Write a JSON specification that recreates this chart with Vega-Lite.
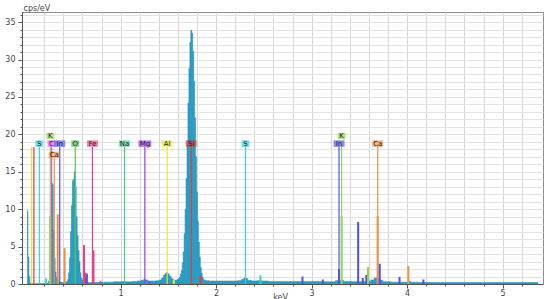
{
  "$schema": "https://vega.github.io/schema/vega-lite/v6.json",
  "width": 521,
  "height": 272,
  "autosize": "none",
  "padding": {"left": 22, "top": 12, "right": 7, "bottom": 15},
  "background": "white",
  "config": {
    "view": {"stroke": "#8a8a8a", "strokeWidth": 1},
    "font": "DejaVu Sans",
    "axis": {"labelOverlap": false, "labelFlush": false}
  },
  "datasets": {
    "spectrum": [
      {"e": 0.025, "c": 9.8}, {"e": 0.035, "c": 3.6}, {"e": 0.045, "c": 1.0}, {"e": 0.055, "c": 0.15}, {"e": 0.065, "c": 0.05},
      {"e": 0.1, "c": 0.05}, {"e": 0.2, "c": 0.05}, {"e": 0.24, "c": 0.1}, {"e": 0.25, "c": 0.4}, {"e": 0.26, "c": 1.0},
      {"e": 0.27, "c": 4.0}, {"e": 0.28, "c": 13.5}, {"e": 0.29, "c": 13.3}, {"e": 0.3, "c": 7.2}, {"e": 0.31, "c": 3.5},
      {"e": 0.32, "c": 1.6}, {"e": 0.33, "c": 0.9}, {"e": 0.34, "c": 0.5}, {"e": 0.35, "c": 0.3}, {"e": 0.36, "c": 0.25},
      {"e": 0.38, "c": 0.2}, {"e": 0.42, "c": 0.2}, {"e": 0.44, "c": 0.3}, {"e": 0.45, "c": 0.6}, {"e": 0.46, "c": 1.5},
      {"e": 0.47, "c": 3.5}, {"e": 0.48, "c": 7.0}, {"e": 0.49, "c": 10.5}, {"e": 0.5, "c": 13.8}, {"e": 0.51, "c": 14.0},
      {"e": 0.52, "c": 15.0}, {"e": 0.53, "c": 13.0}, {"e": 0.54, "c": 9.0}, {"e": 0.55, "c": 6.5}, {"e": 0.56, "c": 4.5},
      {"e": 0.57, "c": 3.0}, {"e": 0.58, "c": 1.5}, {"e": 0.59, "c": 0.8}, {"e": 0.6, "c": 0.5}, {"e": 0.61, "c": 0.35},
      {"e": 0.62, "c": 1.3}, {"e": 0.63, "c": 1.3}, {"e": 0.64, "c": 0.3}, {"e": 0.66, "c": 0.2}, {"e": 0.7, "c": 0.2},
      {"e": 0.8, "c": 0.2}, {"e": 0.85, "c": 0.25}, {"e": 0.9, "c": 0.25}, {"e": 0.95, "c": 0.3}, {"e": 1.0, "c": 0.3},
      {"e": 1.04, "c": 0.35}, {"e": 1.06, "c": 0.3}, {"e": 1.1, "c": 0.3}, {"e": 1.15, "c": 0.35}, {"e": 1.2, "c": 0.4},
      {"e": 1.23, "c": 0.5}, {"e": 1.25, "c": 0.6}, {"e": 1.27, "c": 0.55}, {"e": 1.3, "c": 0.4}, {"e": 1.35, "c": 0.4},
      {"e": 1.4, "c": 0.45}, {"e": 1.42, "c": 0.55}, {"e": 1.44, "c": 0.8}, {"e": 1.46, "c": 1.2}, {"e": 1.47, "c": 1.4},
      {"e": 1.48, "c": 1.5}, {"e": 1.49, "c": 1.5}, {"e": 1.5, "c": 1.4}, {"e": 1.51, "c": 1.2}, {"e": 1.52, "c": 1.0},
      {"e": 1.54, "c": 0.7}, {"e": 1.56, "c": 0.55}, {"e": 1.58, "c": 0.5}, {"e": 1.6, "c": 0.6}, {"e": 1.61, "c": 0.75},
      {"e": 1.62, "c": 0.9}, {"e": 1.63, "c": 1.3}, {"e": 1.64, "c": 1.8}, {"e": 1.65, "c": 2.8}, {"e": 1.66, "c": 4.3},
      {"e": 1.67, "c": 6.7}, {"e": 1.68, "c": 10.0}, {"e": 1.69, "c": 14.1}, {"e": 1.7, "c": 19.1}, {"e": 1.71, "c": 24.2},
      {"e": 1.72, "c": 28.8}, {"e": 1.73, "c": 32.3}, {"e": 1.74, "c": 33.9}, {"e": 1.75, "c": 33.5}, {"e": 1.76, "c": 31.1},
      {"e": 1.77, "c": 27.1}, {"e": 1.78, "c": 22.2}, {"e": 1.79, "c": 17.0}, {"e": 1.8, "c": 12.3}, {"e": 1.81, "c": 8.4},
      {"e": 1.82, "c": 5.6}, {"e": 1.83, "c": 3.6}, {"e": 1.84, "c": 2.2}, {"e": 1.85, "c": 1.4}, {"e": 1.86, "c": 0.9},
      {"e": 1.87, "c": 0.6}, {"e": 1.88, "c": 0.5}, {"e": 1.9, "c": 0.45}, {"e": 1.95, "c": 0.4}, {"e": 2.0, "c": 0.4},
      {"e": 2.1, "c": 0.4}, {"e": 2.2, "c": 0.4}, {"e": 2.25, "c": 0.45}, {"e": 2.28, "c": 0.6}, {"e": 2.3, "c": 0.8},
      {"e": 2.32, "c": 0.75}, {"e": 2.34, "c": 0.5}, {"e": 2.4, "c": 0.4}, {"e": 2.46, "c": 0.45}, {"e": 2.5, "c": 0.4},
      {"e": 2.6, "c": 0.35}, {"e": 2.8, "c": 0.35}, {"e": 3.0, "c": 0.35}, {"e": 3.2, "c": 0.3}, {"e": 3.3, "c": 0.45},
      {"e": 3.32, "c": 0.5}, {"e": 3.35, "c": 0.35}, {"e": 3.5, "c": 0.3}, {"e": 3.6, "c": 0.35}, {"e": 3.64, "c": 0.55},
      {"e": 3.67, "c": 0.8}, {"e": 3.7, "c": 0.75}, {"e": 3.73, "c": 0.5}, {"e": 3.76, "c": 0.3}, {"e": 3.9, "c": 0.25},
      {"e": 4.0, "c": 0.25}, {"e": 4.02, "c": 0.35}, {"e": 4.05, "c": 0.25}, {"e": 4.2, "c": 0.2}, {"e": 4.5, "c": 0.2},
      {"e": 5.0, "c": 0.2}, {"e": 5.37, "c": 0.2}
    ],
    "markers": [
      {"el": "Al", "e": 0.068, "label": "", "tier": "mid"},
      {"el": "Si", "e": 0.092, "label": "", "tier": "mid"},
      {"el": "S", "e": 0.149, "label": "S", "tier": "mid"},
      {"el": "K", "e": 0.264, "label": "K", "tier": "top"},
      {"el": "C", "e": 0.277, "label": "C", "tier": "mid"},
      {"el": "Ca", "e": 0.305, "label": "Ca", "tier": "low"},
      {"el": "In", "e": 0.363, "label": "In", "tier": "mid"},
      {"el": "O", "e": 0.525, "label": "O", "tier": "mid"},
      {"el": "Fe", "e": 0.705, "label": "Fe", "tier": "mid"},
      {"el": "Na", "e": 1.041, "label": "Na", "tier": "mid"},
      {"el": "Mg", "e": 1.254, "label": "Mg", "tier": "mid"},
      {"el": "Al", "e": 1.487, "label": "Al", "tier": "mid"},
      {"el": "Si", "e": 1.74, "label": "Si", "tier": "mid"},
      {"el": "S", "e": 2.308, "label": "S", "tier": "mid"},
      {"el": "In", "e": 3.287, "label": "In", "tier": "mid"},
      {"el": "K", "e": 3.314, "label": "K", "tier": "top"},
      {"el": "Ca", "e": 3.692, "label": "Ca", "tier": "mid"}
    ],
    "peaks": [
      {"el": "S", "e": 0.22, "h": 0.75},
      {"el": "K", "e": 0.262, "h": 9.1},
      {"el": "Ca", "e": 0.342, "h": 9.3},
      {"el": "Ca", "e": 0.414, "h": 4.8},
      {"el": "Fe", "e": 0.617, "h": 5.2},
      {"el": "Fe", "e": 0.628, "h": 1.5},
      {"el": "In", "e": 0.647, "h": 1.4},
      {"el": "Fe", "e": 0.716, "h": 4.5},
      {"el": "Fe", "e": 0.79, "h": 0.4},
      {"el": "Mg", "e": 1.305, "h": 0.4},
      {"el": "Al", "e": 1.557, "h": 0.6},
      {"el": "Si", "e": 1.836, "h": 1.1},
      {"el": "S", "e": 2.464, "h": 1.16},
      {"el": "In", "e": 2.904, "h": 1.0},
      {"el": "In", "e": 3.117, "h": 0.6},
      {"el": "In", "e": 3.287, "h": 2.0},
      {"el": "K", "e": 3.314, "h": 9.1},
      {"el": "In", "e": 3.487, "h": 8.3},
      {"el": "In", "e": 3.535, "h": 0.8},
      {"el": "In", "e": 3.573, "h": 1.2},
      {"el": "K", "e": 3.59, "h": 2.3},
      {"el": "Ca", "e": 3.691, "h": 9.1},
      {"el": "In", "e": 3.713, "h": 2.7},
      {"el": "In", "e": 3.92, "h": 0.95},
      {"el": "Ca", "e": 4.013, "h": 2.4},
      {"el": "In", "e": 4.17, "h": 0.6}
    ]
  },
  "encoding": {
    "x": {
      "field": "e", "type": "quantitative", "title": "keV",
      "scale": {"domain": [0.02, 5.37], "nice": false, "zero": false},
      "axis": {
        "values": [0.2, 0.4, 0.6, 0.8, 1, 1.2, 1.4, 1.6, 1.8, 2, 2.2, 2.4, 2.6, 2.8, 3, 3.2, 3.4, 3.6, 3.8, 4, 4.2, 4.4, 4.6, 4.8, 5, 5.2],
        "labelExpr": "datum.value % 1 === 0 ? format(datum.value, 'd') : ''",
        "grid": true, "gridColor": "#d6d6d6", "gridWidth": 1,
        "domainColor": "#555555", "tickColor": "#555555",
        "tickSize": {"condition": {"test": "datum.value % 1 === 0", "value": 4}, "value": 2},
        "labelFontSize": 8, "labelColor": "#444444", "labelPadding": 1,
        "labelOverlap": false, "labelFlush": false,
        "titleFontSize": 8, "titleFontWeight": "normal", "titleColor": "#444444",
        "titleBaseline": "top", "titleY": 9, "titleX": 258, "titleAlign": "center"
      }
    },
    "y": {
      "type": "quantitative", "title": "cps/eV",
      "scale": {"domain": [0, 36.35], "nice": false},
      "axis": {
        "values": [0, 1, 2, 3, 4, 5, 6, 7, 8, 9, 10, 11, 12, 13, 14, 15, 16, 17, 18, 19, 20, 21, 22, 23, 24, 25, 26, 27, 28, 29, 30, 31, 32, 33, 34, 35, 36],
        "labelExpr": "datum.value % 5 === 0 ? format(datum.value, 'd') : ''",
        "grid": true, "gridColor": "#e2e2e2", "gridWidth": 1,
        "domainColor": "#555555", "tickColor": "#555555",
        "tickSize": {"condition": {"test": "datum.value % 5 === 0", "value": 4}, "value": 2},
        "labelFontSize": 8, "labelColor": "#444444", "labelPadding": 3, "labelOverlap": false,
        "titleFontSize": 8, "titleFontWeight": "normal", "titleColor": "#444444",
        "titleAngle": 0, "titleAlign": "left", "titleBaseline": "alphabetic", "titleX": 1, "titleY": -2
      }
    }
  },
  "layer": [
    {
      "data": {"name": "spectrum"},
      "mark": {"type": "area", "interpolate": "step", "color": "#2b9cc3", "stroke": "#1f86b0", "strokeWidth": 0.5, "clip": true},
      "encoding": {"y": {"field": "c", "type": "quantitative", "title": "cps/eV"}}
    },
    {
      "data": {"name": "markers"},
      "transform": [{"filter": "datum.tier !== 'low'"}],
      "mark": {"type": "rule", "strokeWidth": 1.2},
      "encoding": {
        "y": {"datum": 18.32, "type": "quantitative", "title": "cps/eV"},
        "y2": {"datum": 0},
        "color": {"field": "el", "type": "nominal", "legend": null,
          "scale": {"domain": ["S", "K", "C", "In", "Ca", "O", "Fe", "Na", "Mg", "Al", "Si"],
                    "range": ["#30d4e0", "#8ada4e", "#e050e8", "#5050ee", "#f09040", "#50cc50", "#ee3c8c", "#40d490", "#9a3cf0", "#e6e630", "#e83c3c"]}}
      }
    },
    {
      "data": {"name": "markers"},
      "transform": [{"filter": "datum.tier === 'low'"}],
      "mark": {"type": "rule", "strokeWidth": 1.2},
      "encoding": {
        "y": {"datum": 16.82, "type": "quantitative", "title": "cps/eV"},
        "y2": {"datum": 0},
        "color": {"field": "el", "type": "nominal", "legend": null}
      }
    },
    {
      "data": {"name": "peaks"},
      "mark": {"type": "rule", "strokeWidth": 2},
      "encoding": {
        "y": {"field": "h", "type": "quantitative", "title": "cps/eV"},
        "y2": {"datum": 0},
        "color": {"field": "el", "type": "nominal", "legend": null}
      }
    },
    {
      "data": {"name": "markers"},
      "transform": [{"filter": "datum.tier === 'mid' && datum.label !== ''"}],
      "mark": {"type": "bar", "fillOpacity": 0.65},
      "encoding": {
        "y": {"datum": 18.32, "type": "quantitative", "title": "cps/eV"},
        "y2": {"datum": 19.2},
        "size": {"condition": [{"test": "datum.label === 'Mg'", "value": 13}, {"test": "length(datum.label) > 1", "value": 11}], "value": 8},
        "color": {"field": "el", "type": "nominal", "legend": null}
      }
    },
    {
      "data": {"name": "markers"},
      "transform": [{"filter": "datum.tier === 'top'"}],
      "mark": {"type": "bar", "fillOpacity": 0.65},
      "encoding": {
        "y": {"datum": 19.33, "type": "quantitative", "title": "cps/eV"},
        "y2": {"datum": 20.2},
        "size": {"value": 8},
        "color": {"field": "el", "type": "nominal", "legend": null}
      }
    },
    {
      "data": {"name": "markers"},
      "transform": [{"filter": "datum.tier === 'low'"}],
      "mark": {"type": "bar", "fillOpacity": 0.65},
      "encoding": {
        "y": {"datum": 16.82, "type": "quantitative", "title": "cps/eV"},
        "y2": {"datum": 17.68},
        "size": {"value": 11},
        "color": {"field": "el", "type": "nominal", "legend": null}
      }
    },
    {
      "data": {"name": "markers"},
      "transform": [{"filter": "datum.tier === 'mid' && datum.label !== ''"}],
      "mark": {"type": "text", "fontSize": 7, "color": "#1a1a1a", "baseline": "middle", "align": "center"},
      "encoding": {
        "y": {"datum": 18.76, "type": "quantitative", "title": "cps/eV"},
        "text": {"field": "label"}
      }
    },
    {
      "data": {"name": "markers"},
      "transform": [{"filter": "datum.tier === 'top'"}],
      "mark": {"type": "text", "fontSize": 7, "color": "#1a1a1a", "baseline": "middle", "align": "center"},
      "encoding": {
        "y": {"datum": 19.77, "type": "quantitative", "title": "cps/eV"},
        "text": {"field": "label"}
      }
    },
    {
      "data": {"name": "markers"},
      "transform": [{"filter": "datum.tier === 'low'"}],
      "mark": {"type": "text", "fontSize": 7, "color": "#1a1a1a", "baseline": "middle", "align": "center"},
      "encoding": {
        "y": {"datum": 17.25, "type": "quantitative", "title": "cps/eV"},
        "text": {"field": "label"}
      }
    }
  ]
}
